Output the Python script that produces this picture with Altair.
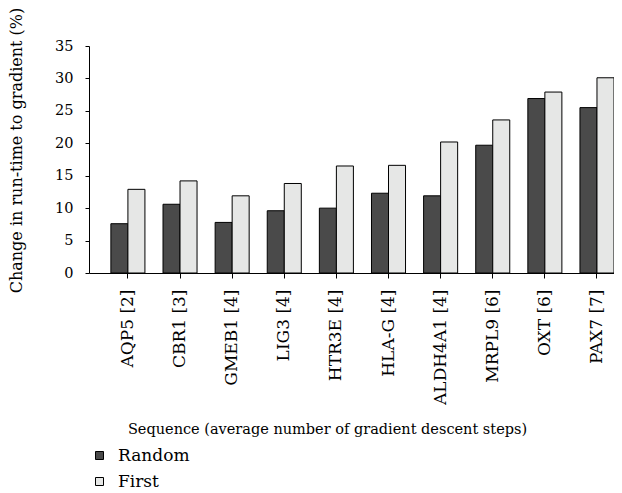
import altair as alt
import pandas as pd

sequences = ["AQP5 [2]", "CBR1 [3]", "GMEB1 [4]", "LIG3 [4]", "HTR3E [4]",
             "HLA-G [4]", "ALDH4A1 [4]", "MRPL9 [6]", "OXT [6]", "PAX7 [7]"]
random_vals = [7.6, 10.6, 7.8, 9.6, 10.0, 12.3, 11.9, 19.7, 26.9, 25.5]
first_vals = [12.9, 14.2, 11.9, 13.8, 16.5, 16.6, 20.2, 23.6, 27.9, 30.1]
series = ["Random", "First"]
colors = ["#4a4a4a", "#e6e7e6"]
y_ticks = [0, 5, 10, 15, 20, 25, 30, 35]

rows = []
for s, r, f in zip(sequences, random_vals, first_vals):
    rows.append({"seq": s, "series": "Random", "value": r})
    rows.append({"seq": s, "series": "First", "value": f})
df = pd.DataFrame(rows)

FONT = "DejaVu Serif"

chart = alt.Chart(df).mark_bar(stroke="black", strokeWidth=1).encode(
    x=alt.X("seq:N", sort=sequences,
            scale=alt.Scale(paddingInner=0.347, paddingOuter=0.21, align=1),
            axis=alt.Axis(title="Sequence (average number of gradient descent steps)",
                          labelAngle=-90, labelFont=FONT, labelFontSize=17,
                          labelColor="black", labelPadding=11,
                          titleFont=FONT, titleFontSize=14.5, titleFontWeight="normal",
                          titleColor="black", titlePadding=18, titleX=238,
                          titleAlign="center",
                          domainColor="black", tickColor="black", tickSize=5)),
    xOffset=alt.XOffset("series:N", sort=series,
                        scale=alt.Scale(paddingInner=0, paddingOuter=0)),
    y=alt.Y("value:Q", scale=alt.Scale(domain=[0, 35], nice=False),
            axis=alt.Axis(values=y_ticks, grid=False,
                          title="Change in run-time to gradient (%)",
                          labelFont=FONT, labelFontSize=14.5, labelColor="black",
                          labelPadding=12,
                          titleFont=FONT, titleFontSize=16, titleFontWeight="normal",
                          titleColor="black", titleY=104, titlePadding=30,
                          domainColor="black", tickColor="black", tickSize=4)),
    color=alt.Color("series:N", sort=series,
                    scale=alt.Scale(domain=series, range=colors),
                    legend=alt.Legend(title=None, orient="none", legendX=2, legendY=401,
                                      direction="vertical", symbolType="square",
                                      symbolSize=64, symbolStrokeColor="black",
                                      symbolStrokeWidth=1, labelFont=FONT,
                                      labelFontSize=17, labelColor="black",
                                      rowPadding=8, labelOffset=10, padding=0)),
).properties(
    width=525, height=227, autosize="none",
    padding={"left": 81, "top": 38, "right": 0, "bottom": 218},
).configure_view(stroke=None)

chart.save("out.html", embed_options={"renderer": "svg", "actions": False})
